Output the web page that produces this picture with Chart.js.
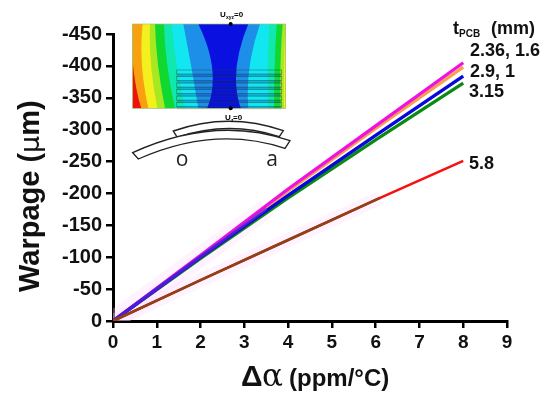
<!DOCTYPE html>
<html>
<head>
<meta charset="utf-8">
<title>Warpage</title>
<script src="https://cdn.jsdelivr.net/npm/chart.js@4/dist/chart.umd.min.js"></script>
<style>
  html, body { margin: 0; padding: 0; background: #fff; }
  canvas { display: block; }
</style>
</head>
<body>
<canvas id="chart" width="550" height="397"></canvas>
<script>
// values
const deltaAlpha = [0, 2, 4, 6, 8];
const warpage236 = [0, -103, -207, -306, -405];
const warpage29 = [0, -102, -204, -302, -398];
const warpage29b = [0, -100, -197, -291, -384];
const warpage315 = [0, -98, -193, -284, -373];
const warpage58 = [0, -64, -127, -190, -251];

// the curves overlap near the origin, the picture shows mixed colours there
const overlapX = [0, 2, 3.5];
const overlapPurple = [0, -101, -176];
const overlapBrownX = [0, 2, 4, 6.1];
const overlapBrown = [0, -64, -127, -193];

const xTicks = [0, 1, 2, 3, 4, 5, 6, 7, 8, 9];
const yTicks = [0, -50, -100, -150, -200, -250, -300, -350, -400, -450];

const toPoints = (xs, ys) => xs.map((x, i) => ({x: x, y: ys[i]}));
const line = (xs, ys, color, width, order) => ({
  data: toPoints(xs, ys),
  borderColor: color,
  borderWidth: width,
  pointRadius: 0,
  borderCapStyle: 'butt',
  tension: 0,
  order: order,
});

const SANS = '"Liberation Sans", Arial, sans-serif';

function fillBand(ctx, color, top, cx, cy, bottom, edge) {
  ctx.fillStyle = color;
  ctx.beginPath();
  ctx.moveTo(edge, 72);
  ctx.lineTo(top, 72);
  ctx.quadraticCurveTo(cx, cy, bottom, 325);
  ctx.lineTo(edge, 325);
  ctx.closePath();
  ctx.fill();
}

function drawInset(ctx) {
  // worked out in 3x crop coordinates, easier to read the contours that way
  ctx.save();
  ctx.translate(120, 0);
  ctx.scale(1 / 3, 1 / 3);

  ctx.save();
  ctx.beginPath();
  ctx.rect(38, 72, 459, 253);
  ctx.clip();
  ctx.fillStyle = '#0a10e0';
  ctx.fillRect(38, 72, 459, 253);

  // [colour, x top, control x, control y, x bottom], inner band first
  const bandsLeft = [
    ['#1e8fe8', 235, 305, 215, 262],
    ['#12e6f0', 190, 215, 200, 235],
    ['#10e8b0', 155, 165, 190, 195],
    ['#10d830', 132, 135, 190, 165],
    ['#a8e820', 105, 108, 190, 135],
    ['#f4f020', 90, 85, 190, 112],
    ['#f8a010', 68, 55, 190, 85],
  ];
  const bandsRight = [
    ['#1e8fe8', 385, 325, 215, 362],
    ['#12e6f0', 420, 375, 200, 385],
    ['#10e8b0', 448, 440, 190, 445],
    ['#10d830', 470, 462, 190, 462],
    ['#a8e820', 488, 478, 190, 482],
    ['#f4f020', 497, 490, 190, 492],
  ];
  bandsLeft.forEach((b) => fillBand(ctx, b[0], b[1], b[2], b[3], b[4], -50));
  bandsRight.forEach((b) => fillBand(ctx, b[0], b[1], b[2], b[3], b[4], 600));

  // hot corner
  ctx.fillStyle = '#f01010';
  ctx.beginPath();
  ctx.moveTo(38, 185);
  ctx.quadraticCurveTo(46, 270, 64, 325);
  ctx.lineTo(38, 325);
  ctx.closePath();
  ctx.fill();

  // dark blue neck
  ctx.fillStyle = '#0a10e0';
  ctx.beginPath();
  ctx.moveTo(295, 250);
  ctx.lineTo(325, 250);
  ctx.lineTo(362, 325);
  ctx.lineTo(262, 325);
  ctx.closePath();
  ctx.fill();
  ctx.restore();

  // layers
  ctx.strokeStyle = 'rgba(20,70,60,0.6)';
  ctx.lineWidth = 2;
  for (let i = 0; i < 6; i++) {
    ctx.strokeRect(170, 210 + i * 19.6, 315, 12);
    ctx.fillStyle = 'rgba(10,20,130,0.25)';
    ctx.fillRect(170, 222 + i * 19.6, 315, 7.6);
  }

  ctx.strokeStyle = '#a8c070';
  ctx.lineWidth = 2;
  ctx.strokeRect(38, 72, 459, 253);

  ctx.fillStyle = '#000';
  [72, 325].forEach((y) => {
    ctx.beginPath();
    ctx.arc(332, y, 6, 0, Math.PI * 2);
    ctx.fill();
  });

  // bent chip and board
  ctx.strokeStyle = '#222';
  ctx.lineWidth = 4;
  ctx.fillStyle = '#fff';
  ctx.beginPath();
  ctx.moveTo(160, 393);
  ctx.quadraticCurveTo(325, 335, 490, 392);
  ctx.lineTo(478, 410);
  ctx.quadraticCurveTo(325, 360, 172, 412);
  ctx.closePath();
  ctx.fill();
  ctx.stroke();
  ctx.beginPath();
  ctx.moveTo(38, 458);
  ctx.quadraticCurveTo(285, 345, 510, 422);
  ctx.lineTo(495, 445);
  ctx.quadraticCurveTo(285, 375, 55, 477);
  ctx.closePath();
  ctx.fill();
  ctx.stroke();
  ctx.restore();

  ctx.fillStyle = '#222';
  ctx.textAlign = 'center';
  ctx.textBaseline = 'alphabetic';
  ctx.font = '21px "Open Sans", sans-serif';
  ctx.fillText('o', 182, 166);
  ctx.fillText('a', 272, 166);

  ctx.fillStyle = '#000';
  ctx.textAlign = 'left';
  ctx.font = 'bold 8px ' + SANS;
  ctx.fillText('U', 220, 17);
  ctx.fillText('=0', 234, 17);
  ctx.fillText('U', 225, 120);
  ctx.fillText('=0', 233, 120);
  ctx.font = 'bold 5px ' + SANS;
  ctx.fillText('xyz', 226, 18.5);
  ctx.fillText('z', 231, 121.5);
}

function drawTexts(ctx) {
  ctx.fillStyle = '#111';
  ctx.textBaseline = 'alphabetic';
  ctx.textAlign = 'left';

  // series labels
  ctx.font = 'bold 18px ' + SANS;
  ctx.fillText('t', 453, 34);
  ctx.fillText('(mm)', 491, 34);
  ctx.font = 'bold 10px ' + SANS;
  ctx.fillText('PCB', 459, 37);
  ctx.font = 'bold 18px ' + SANS;
  ctx.fillText('2.36, 1.6', 470, 56);
  ctx.fillText('2.9, 1', 470, 77);
  ctx.fillText('3.15', 469, 97);
  ctx.fillText('5.8', 469, 169);

  // x axis title
  ctx.font = 'bold 30px ' + SANS;
  ctx.fillText('\u0394', 241, 386);
  ctx.font = '31px "DejaVu Serif", serif';
  ctx.fillText('\u03b1', 262, 386);
  ctx.font = 'bold 24px ' + SANS;
  ctx.fillText('(ppm/\u00b0C)', 289, 386);

  // y axis title
  ctx.save();
  ctx.translate(39, 292);
  ctx.rotate(-Math.PI / 2);
  ctx.font = 'bold 29px ' + SANS;
  ctx.fillText('Warpage (', 0, 0);
  let w = ctx.measureText('Warpage (').width;
  ctx.font = '27px "DejaVu Sans", sans-serif';
  ctx.fillText('\u03bc', w, 0);
  w += ctx.measureText('\u03bc').width;
  ctx.font = 'bold 29px ' + SANS;
  ctx.fillText('m)', w, 0);
  ctx.restore();
}

const decorations = {
  id: 'decorations',
  afterDraw(chart) {
    drawInset(chart.ctx);
    drawTexts(chart.ctx);
  },
};

new Chart(document.getElementById('chart'), {
  type: 'line',
  data: {
    // lower order is drawn on top
    datasets: [
      line(overlapBrownX, overlapBrown, '#8a4418', 2.6, 1),
      line(deltaAlpha, warpage58, '#f81010', 2.6, 2),
      line(overlapX, overlapPurple, 'rgba(120,40,220,0.6)', 3.6, 3),
      line(deltaAlpha, warpage29b, '#0808d8', 3.4, 4),
      line(deltaAlpha, warpage236, '#f010e0', 3.2, 5),
      line(deltaAlpha, warpage29, '#f8a050', 3.2, 6),
      line(deltaAlpha, warpage315, '#0a8a12', 3.2, 7),
      line(overlapX, overlapPurple, 'rgba(255,215,255,0.3)', 20, 8),
      line(overlapBrownX, overlapBrown, 'rgba(255,215,255,0.3)', 14, 9),
    ],
  },
  options: {
    responsive: false,
    animation: false,
    parsing: false,
    layout: {padding: {top: 34, right: 43, left: 0, bottom: 0}},
    plugins: {legend: {display: false}, tooltip: {enabled: false}},
    scales: {
      x: {
        type: 'linear',
        min: 0,
        max: 9,
        afterFit(scale) { scale.height = 76; },
        afterBuildTicks(scale) { scale.ticks = xTicks.map((v) => ({value: v})); },
        border: {color: '#000', width: 3},
        grid: {drawOnChartArea: false, color: '#000', tickColor: '#000', tickLength: 7, lineWidth: 2.5},
        ticks: {color: '#111', maxRotation: 0, padding: 3, font: {family: SANS, size: 19, weight: 'bold'}},
      },
      y: {
        type: 'linear',
        reverse: true,
        min: -450,
        max: 0,
        afterFit(scale) { scale.width = 113; },
        afterBuildTicks(scale) { scale.ticks = yTicks.map((v) => ({value: v})); },
        border: {color: '#000', width: 3},
        grid: {drawOnChartArea: false, color: '#000', tickColor: '#000', tickLength: 7, lineWidth: 2.5},
        ticks: {color: '#111', padding: 4, font: {family: SANS, size: 20, weight: 'bold'}},
      },
    },
  },
  plugins: [decorations],
});
</script>
</body>
</html>
